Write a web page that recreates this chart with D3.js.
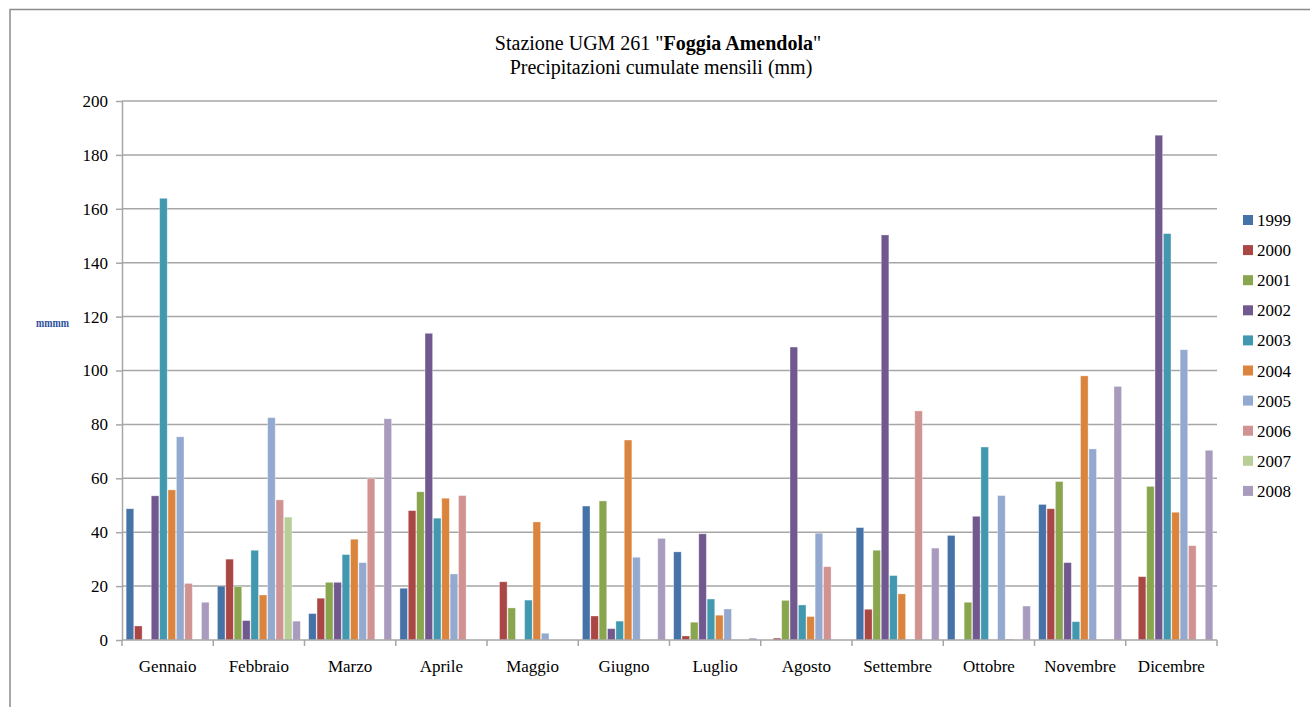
<!DOCTYPE html>
<html>
<head>
<meta charset="utf-8">
<script src="https://cdn.jsdelivr.net/npm/d3@7"></script>
<style>
  body { margin: 0; background: #fff; }
  svg text { font-family: "Liberation Serif", "DejaVu Serif", serif; }
</style>
</head>
<body>
<svg width="1310" height="707"></svg>
<script>
// monthly cumulated rainfall (mm), one array per year
var months = ["Gennaio", "Febbraio", "Marzo", "Aprile", "Maggio", "Giugno",
              "Luglio", "Agosto", "Settembre", "Ottobre", "Novembre", "Dicembre"];
var years = ["1999", "2000", "2001", "2002", "2003", "2004", "2005", "2006", "2007", "2008"];
var yearColors = ["#4572A7", "#AA4643", "#89A54E", "#71588F", "#4198AF",
                  "#DB843D", "#93A9CF", "#D19392", "#B9CD96", "#A99BBD"];
var yTicks = [0, 20, 40, 60, 80, 100, 120, 140, 160, 180, 200];

var v1999 = [48.7, 20.0, 9.8, 19.2, 0, 49.7, 32.7, 0, 41.7, 38.8, 50.3, 0];
var v2000 = [5.2, 30.0, 15.5, 48.0, 21.6, 8.9, 1.5, 0.7, 11.4, 0, 48.7, 23.5];
var v2001 = [0, 19.8, 21.4, 55.0, 11.9, 51.6, 6.6, 14.7, 33.3, 14.0, 58.8, 57.0];
var v2002 = [53.5, 7.2, 21.4, 113.8, 0, 4.2, 39.4, 108.7, 150.3, 45.9, 28.7, 187.3];
var v2003 = [163.9, 33.3, 31.7, 45.2, 14.8, 7.0, 15.2, 13.0, 23.9, 71.6, 6.8, 150.8];
var v2004 = [55.7, 16.7, 37.4, 52.6, 43.8, 74.2, 9.2, 8.7, 17.1, 0, 98.0, 47.4];
var v2005 = [75.4, 82.5, 28.7, 24.5, 2.5, 30.7, 11.5, 39.6, 0, 53.6, 70.9, 107.7];
var v2006 = [21.0, 52.0, 60.0, 53.6, 0, 0, 0, 27.2, 85.0, 0.3, 0, 35.0];
var v2007 = [0, 45.6, 0, 0, 0, 0, 0, 0, 0, 0, 0, 0];
var v2008 = [14.0, 7.0, 82.1, 0, 0, 37.7, 0.7, 0, 34.1, 12.6, 94.1, 70.4];
var series = [v1999, v2000, v2001, v2002, v2003, v2004, v2005, v2006, v2007, v2008];

var svg = d3.select("svg");

// outer frame of the pasted chart
svg.append("path")
    .attr("d", "M10,707 V9.5 H1310")
    .attr("fill", "none")
    .attr("stroke", "#8c8c8c")
    .attr("stroke-width", 1.5);

var plotL = 122, plotR = 1217, plotT = 101, plotB = 640;

var x0 = d3.scaleBand().domain(months).range([plotL, plotR]).paddingInner(0).paddingOuter(0);
var x1 = d3.scaleBand().domain(years).range([0, x0.bandwidth()]).paddingInner(0).paddingOuter(0.45);
var y = d3.scaleLinear().domain([0, 200]).range([plotB, plotT]);

// gridlines
svg.append("g").selectAll("line")
    .data(yTicks.slice(1))
    .enter().append("line")
    .attr("x1", plotL).attr("x2", plotR)
    .attr("y1", function(d) { return y(d); })
    .attr("y2", function(d) { return y(d); })
    .attr("stroke", "#a6a6a6")
    .attr("stroke-width", 1.5);

// bars
var groups = svg.append("g").selectAll("g")
    .data(series)
    .enter().append("g")
    .attr("fill", function(d, i) { return yearColors[i]; });

groups.selectAll("rect")
    .data(function(d, i) {
        return d.map(function(v, j) { return {year: years[i], month: months[j], value: v}; });
    })
    .enter().append("rect")
    .attr("x", function(d) { return x0(d.month) + x1(d.year) + 0.4; })
    .attr("width", x1.bandwidth() - 0.8)
    .attr("y", function(d) { return y(d.value); })
    .attr("height", function(d) { return y(0) - y(d.value); })
    .attr("stroke", "rgba(255,255,255,0.4)")
    .attr("stroke-width", 0.8);

// y axis
var yAxis = svg.append("g")
    .attr("transform", "translate(" + plotL + ",0)")
    .call(d3.axisLeft(y).tickValues(yTicks).tickSize(6).tickSizeOuter(0).tickPadding(8));
yAxis.select(".domain").attr("stroke", "#a6a6a6").attr("stroke-width", 1.5);
yAxis.selectAll(".tick line").attr("stroke", "#a6a6a6").attr("stroke-width", 1.5);
yAxis.selectAll(".tick text")
    .attr("font-family", "Liberation Serif, serif")
    .attr("font-size", 17)
    .attr("fill", "#000");

// x axis: ticks at category boundaries
var xAxisG = svg.append("g").attr("transform", "translate(0," + plotB + ")");
xAxisG.append("line")
    .attr("x1", plotL).attr("x2", plotR)
    .attr("stroke", "#a6a6a6").attr("stroke-width", 1.5);
xAxisG.selectAll(".bt")
    .data(months.concat(["end"]))
    .enter().append("line")
    .attr("class", "bt")
    .attr("x1", function(d, i) { return i < months.length ? x0(d) : plotR; })
    .attr("x2", function(d, i) { return i < months.length ? x0(d) : plotR; })
    .attr("y1", 0).attr("y2", 6)
    .attr("stroke", "#a6a6a6").attr("stroke-width", 1.5);
xAxisG.selectAll("text")
    .data(months)
    .enter().append("text")
    .attr("x", function(d) { return x0(d) + x0.bandwidth() / 2; })
    .attr("y", 32)
    .attr("text-anchor", "middle")
    .attr("font-size", 17)
    .attr("fill", "#000")
    .text(function(d) { return d; });

// y axis title (rendered squashed in the original)
svg.append("text")
    .attr("x", 36).attr("y", 327)
    .attr("font-size", 12)
    .attr("font-weight", "bold")
    .attr("fill", "#2a4f9a")
    .attr("textLength", 33)
    .attr("lengthAdjust", "spacingAndGlyphs")
    .text("mmmm");

// title
var title = svg.append("text")
    .attr("x", 658).attr("y", 50)
    .attr("text-anchor", "middle")
    .attr("font-size", 20)
    .attr("fill", "#000");
title.append("tspan").text("Stazione UGM 261 \"");
title.append("tspan").attr("font-weight", "bold").text("Foggia Amendola");
title.append("tspan").text("\"");
svg.append("text")
    .attr("x", 661).attr("y", 74)
    .attr("text-anchor", "middle")
    .attr("font-size", 20)
    .attr("fill", "#000")
    .text("Precipitazioni cumulate mensili (mm)");

// legend
var legend = svg.append("g").selectAll("g")
    .data(years)
    .enter().append("g")
    .attr("transform", function(d, i) { return "translate(1243," + (220 + i * 30.1) + ")"; });
legend.append("rect")
    .attr("x", 0).attr("y", -5)
    .attr("width", 10).attr("height", 10)
    .attr("fill", function(d, i) { return yearColors[i]; });
legend.append("text")
    .attr("x", 14).attr("y", 6)
    .attr("font-size", 17)
    .attr("fill", "#000")
    .text(function(d) { return d; });
</script>
</body>
</html>
